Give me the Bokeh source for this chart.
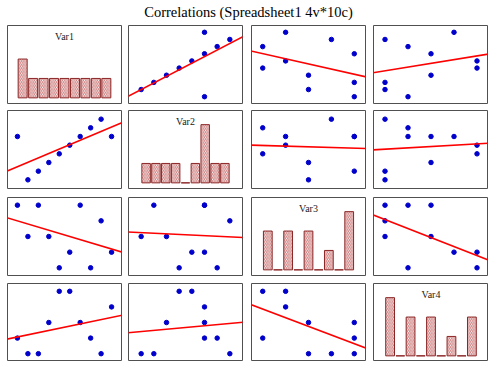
import numpy as np
from bokeh.plotting import figure
from bokeh.layouts import column, row
from bokeh.models import Range1d, Label, Slope, ColumnDataSource
from bokeh.embed import file_html
from bokeh.resources import INLINE

# ---- data (10 cases, 4 variables) ----
names = ["Var1", "Var2", "Var3", "Var4"]
var1 = [1, 2, 3, 4, 5, 6, 7, 8, 9, 10]
var2 = [6, 1, 2, 3, 4, 5, 6, 7, 8, 6]
var3 = [5, 3, 5, 3, 1, 2, 5, 1, 4, 2]
var4 = [2, 1, 1, 3, 5, 5, 3, 2, 1, 4]
title_text = "Correlations (Spreadsheet1 4v*10c)"

data = [np.array(v, dtype=float) for v in (var1, var2, var3, var4)]
n_bins = 9

# layout / style constants
RANGE_PAD = [0.95, 1.0, 0.49, 0.5]
COL_LEFT = [7, 0, 0, 0]
COL_RIGHT = [7, 9, 8, 0]
COL_FRAME_W = [114, 114, 114, 115]
ROW_BOTTOM = [7, 9, 8, 0]
FRAME_H = 78
TITLE_H = 25
POINT_COLOR = "#0000CC"
LINE_COLOR = "#FF0000"
BAR_LINE = "#8B2525"
HATCH_COLOR = "#CC7A7A"
OUTLINE = "#505050"


def hist_counts(v):
    edges = np.linspace(v.min(), v.max(), n_bins + 1)
    idx = np.clip(np.searchsorted(edges, v, side="left") - 1, 0, n_bins - 1)
    counts = np.bincount(idx, minlength=n_bins)
    centers = (edges[:-1] + edges[1:]) / 2
    return centers, counts, edges[1] - edges[0]


hists = [hist_counts(v) for v in data]
max_count = max(h[1].max() for h in hists)
hist_lo, hist_hi = -0.097 * max_count, 1.243 * max_count


def make_panel(r, c):
    w = COL_LEFT[c] + COL_FRAME_W[c] + COL_RIGHT[c]
    h = FRAME_H + ROW_BOTTOM[r]
    xv = data[c]
    xr = Range1d(xv.min() - RANGE_PAD[c], xv.max() + RANGE_PAD[c])
    if r == c:
        yr = Range1d(hist_lo, hist_hi)
    else:
        yv = data[r]
        yr = Range1d(yv.min() - RANGE_PAD[r], yv.max() + RANGE_PAD[r])
    p = figure(width=w, height=h, x_range=xr, y_range=yr,
               output_backend="svg", toolbar_location=None,
               min_border_left=COL_LEFT[c], min_border_top=0,
               min_border_right=COL_RIGHT[c],
               min_border_bottom=ROW_BOTTOM[r])
    p.xaxis.visible = False
    p.yaxis.visible = False
    p.grid.visible = False
    p.outline_line_color = OUTLINE
    p.outline_line_width = 1
    p.background_fill_color = "white"
    p.border_fill_color = "white"
    if r == c:
        centers, counts, bw = hists[c]
        src = ColumnDataSource(dict(x=centers, top=counts))
        p.vbar(x="x", top="top", bottom=0, width=bw * 0.86, source=src,
               fill_color="white", line_color=BAR_LINE, line_width=1,
               hatch_pattern="left_diagonal_line", hatch_color=HATCH_COLOR,
               hatch_scale=3.5, hatch_weight=1)
        label_y = hist_hi - 11.0 / FRAME_H * (hist_hi - hist_lo)
        p.add_layout(Label(x=(xr.start + xr.end) / 2, y=label_y,
                           text=names[c], text_align="center",
                           text_baseline="middle", text_font="Liberation Serif",
                           text_font_size="10px", text_color="#222222"))
    else:
        yv = data[r]
        slope, intercept = np.polyfit(xv, yv, 1)
        p.add_layout(Slope(gradient=slope, y_intercept=intercept,
                           line_color=LINE_COLOR, line_width=1.6))
        p.scatter(xv, yv, size=4.5, fill_color=POINT_COLOR,
                  line_color=POINT_COLOR)
    return p


total_w = sum(COL_LEFT) + sum(COL_FRAME_W) + sum(COL_RIGHT)
title_fig = figure(width=total_w, height=TITLE_H, x_range=Range1d(0, 1),
                   y_range=Range1d(0, 1), output_backend="svg",
                   toolbar_location=None, min_border=0)
title_fig.xaxis.visible = False
title_fig.yaxis.visible = False
title_fig.grid.visible = False
title_fig.outline_line_color = None
title_fig.add_layout(Label(x=248.0 / total_w, y=14.0 / TITLE_H,
                           text=title_text, text_align="center",
                           text_baseline="middle", text_font="Liberation Serif",
                           text_font_size="14.5px", text_color="#000000"))

rows = [row([make_panel(r, c) for c in range(4)], spacing=0) for r in range(4)]
p = column([title_fig] + rows, spacing=0)

open("out.html", "w").write(file_html(p, INLINE))
